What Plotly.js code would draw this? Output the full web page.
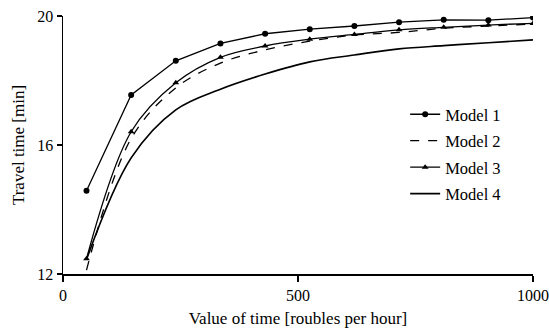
<!DOCTYPE html>
<html><head><meta charset="utf-8">
<script src="https://cdn.plot.ly/plotly-3.0.1.min.js"></script>
<style>body{margin:0;background:#fff}#c{width:549px;height:328px}</style>
</head><body><div id="c"></div>
<script>
const valueOfTime = [50, 145, 240, 335, 430, 525, 620, 715, 810, 905, 1000];
const model1 = [14.58, 17.55, 18.61, 19.15, 19.45, 19.59, 19.69, 19.81, 19.88, 19.87, 19.95];
const model2 = [12.12, 16.2, 17.77, 18.54, 18.95, 19.22, 19.41, 19.49, 19.62, 19.69, 19.75];
const model3 = [12.47, 16.41, 17.93, 18.72, 19.07, 19.28, 19.43, 19.57, 19.65, 19.72, 19.77];
const model4 = [12.45, 15.6, 17.09, 17.73, 18.2, 18.58, 18.79, 18.98, 19.08, 19.17, 19.26];
const names = ["Model 1", "Model 2", "Model 3", "Model 4"];
const xTicks = [0, 500, 1000];
const yTicks = [12, 16, 20];

const fam = "Liberation Serif, Times New Roman, serif";
const tickFont = {family: fam, size: 16, color: "#000"};
const titleFont = {family: fam, size: 17, color: "#000"};
const legFont = {family: fam, size: 16.5, color: "#000"};
const traces = [
  {x: valueOfTime, y: model1, name: names[0], legendgroup: "a", mode: "lines+markers", line: {color: "#000", width: 1.3}, marker: {symbol: "circle", size: 6, color: "#000"}},
  {x: valueOfTime, y: model2, name: names[1], legendgroup: "b", mode: "lines", line: {color: "#000", width: 1.3, dash: "dash", shape: "spline"}},
  {x: valueOfTime, y: model3, name: names[2], legendgroup: "c", mode: "lines+markers", line: {color: "#000", width: 1.3, shape: "spline"}, marker: {symbol: "triangle-up", size: 6, color: "#000"}},
  {x: valueOfTime, y: model4, name: names[3], legendgroup: "d", mode: "lines", line: {color: "#000", width: 1.7, shape: "spline"}}
];
const layout = {
  width: 549, height: 328,
  margin: {l: 63, r: 16, t: 16, b: 54},
  paper_bgcolor: "#fff", plot_bgcolor: "#fff",
  font: tickFont,
  showlegend: true,
  legend: {x: 0.728, y: 0.686, xanchor: "left", yanchor: "top", bgcolor: "rgba(0,0,0,0)", font: legFont,
    traceorder: "grouped", tracegroupgap: 2},
  xaxis: {range: [0, 1000], tickvals: xTicks, ticktext: xTicks.map(String), showgrid: false, zeroline: false,
    showline: true, linecolor: "#000", linewidth: 1.5, ticks: "outside", ticklen: 6, tickcolor: "#000", tickwidth: 1.5,
    tickfont: tickFont, title: {text: "Value of time [roubles per hour]", font: titleFont, standoff: 9}},
  yaxis: {range: [12, 20], tickvals: yTicks, ticktext: yTicks.map(String), showgrid: false, zeroline: false,
    showline: true, linecolor: "#000", linewidth: 1.5, ticks: "outside", ticklen: 5, tickcolor: "#000", tickwidth: 1.5,
    tickfont: tickFont, title: {text: "Travel time [min]", font: titleFont, standoff: 8}}
};
Plotly.newPlot("c", traces, layout, {displayModeBar: false, staticPlot: true});
</script></body></html>
